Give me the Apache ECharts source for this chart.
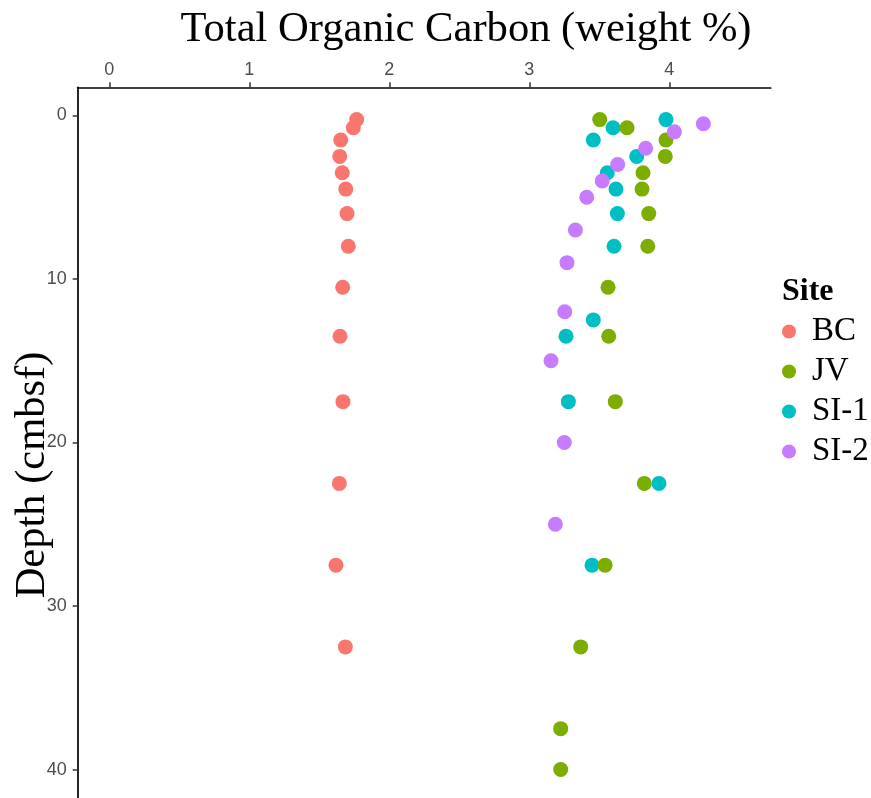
<!DOCTYPE html>
<html>
<head>
<meta charset="utf-8">
<title>Total Organic Carbon by Depth</title>
<script src="https://cdn.jsdelivr.net/npm/echarts@6/dist/echarts.min.js"></script>
<style>
  html, body { margin: 0; padding: 0; background: #ffffff; }
  #chart { width: 871px; height: 798px; }
</style>
</head>
<body>
<div id="chart"></div>
<script>
// Site names and marker colours
var sites = ['BC', 'JV', 'SI-1', 'SI-2'];
var siteColors = ['#F8766D', '#7CAE00', '#00BFC4', '#C77CFF'];

// Sample depths (cmbsf) and TOC (weight %) per site
var bcDepth = [0.25, 0.75, 1.5, 2.5, 3.5, 4.5, 6, 8, 10.5, 13.5, 17.5, 22.5, 27.5, 32.5];
var bcToc   = [1.767, 1.743, 1.653, 1.646, 1.664, 1.689, 1.698, 1.707, 1.667, 1.648, 1.669, 1.643, 1.619, 1.686];

var jvDepth = [0.25, 0.75, 1.5, 2.5, 3.5, 4.5, 6, 8, 10.5, 13.5, 17.5, 22.5, 27.5, 32.5, 37.5, 40];
var jvToc   = [3.503, 3.698, 3.976, 3.971, 3.812, 3.805, 3.853, 3.846, 3.562, 3.567, 3.614, 3.821, 3.541, 3.367, 3.224, 3.224];

var si1Depth = [0.25, 0.75, 1.5, 2.5, 3.5, 4.5, 6, 8, 12.5, 13.5, 17.5, 22.5, 27.5];
var si1Toc   = [3.976, 3.598, 3.457, 3.767, 3.557, 3.619, 3.629, 3.605, 3.457, 3.262, 3.279, 3.926, 3.448];

var si2Depth = [0.5, 1, 2, 3, 4, 5, 7, 9, 12, 15, 20, 25];
var si2Toc   = [4.243, 4.036, 3.831, 3.631, 3.521, 3.41, 3.329, 3.269, 3.253, 3.155, 3.25, 3.186];

// Axis tick values
var tocTicks = [0, 1, 2, 3, 4];
var depthTicks = [0, 10, 20, 30, 40];

function pairs(xs, ys) {
  return xs.map(function (x, i) { return [x, ys[i]]; });
}

var seriesData = {
  'BC': pairs(bcToc, bcDepth),
  'JV': pairs(jvToc, jvDepth),
  'SI-1': pairs(si1Toc, si1Depth),
  'SI-2': pairs(si2Toc, si2Depth)
};

// drawing order: later series sit on top
var drawOrder = ['BC', 'SI-1', 'JV', 'SI-2'];

var chart = echarts.init(document.getElementById('chart'), null, { renderer: 'canvas' });

var serifFont = '"Liberation Serif", "Times New Roman", serif';
var sansFont = '"Liberation Sans", Arial, sans-serif';

chart.setOption({
  animation: false,
  backgroundColor: '#ffffff',
  grid: { left: 77.7, top: 87.3, right: 100.3, bottom: 0, containLabel: false },
  xAxis: {
    type: 'value',
    position: 'top',
    min: -0.2257,
    max: 4.724,
    splitLine: { show: false },
    axisLine: { show: true, onZero: false, lineStyle: { color: '#000000', width: 1.7 } },
    axisTick: { show: true, length: 5, customValues: tocTicks, lineStyle: { color: '#333333', width: 1.5 } },
    axisLabel: {
      show: true, margin: 8, customValues: tocTicks,
      color: '#4d4d4d', fontFamily: sansFont, fontSize: 18,
      formatter: function (v) { return String(v); }
    }
  },
  yAxis: {
    type: 'value',
    inverse: true,
    position: 'left',
    min: -1.725,
    max: 41.74,
    splitLine: { show: false },
    axisLine: { show: true, onZero: false, lineStyle: { color: '#000000', width: 1.7 } },
    axisTick: { show: true, length: 5, customValues: depthTicks, lineStyle: { color: '#333333', width: 1.5 } },
    axisLabel: {
      show: true, margin: 11, customValues: depthTicks,
      color: '#4d4d4d', fontFamily: sansFont, fontSize: 18,
      formatter: function (v) { return String(v); }
    }
  },
  legend: {
    data: sites,
    orient: 'vertical',
    left: 782,
    top: 315,
    padding: 0,
    icon: 'circle',
    itemWidth: 14,
    itemHeight: 14,
    itemGap: 7,
    textStyle: { fontFamily: serifFont, fontSize: 33, color: '#000000', lineHeight: 30, padding: [0, 0, 0, 11] }
  },
  graphic: [
    {
      type: 'text',
      x: 466, y: 30,
      style: {
        text: 'Total Organic Carbon (weight %)',
        font: '42.6px ' + serifFont,
        fill: '#000000',
        align: 'center',
        verticalAlign: 'middle'
      }
    },
    {
      type: 'text',
      x: 33, y: 475,
      rotation: Math.PI / 2,
      style: {
        text: 'Depth (cmbsf)',
        font: '42.5px ' + serifFont,
        fill: '#000000',
        align: 'center',
        verticalAlign: 'middle'
      }
    },
    {
      type: 'text',
      x: 782, y: 292,
      style: {
        text: 'Site',
        font: 'bold 32px ' + serifFont,
        fill: '#000000',
        align: 'left',
        verticalAlign: 'middle'
      }
    }
  ],
  series: drawOrder.map(function (name) {
    return {
      name: name,
      type: 'scatter',
      symbol: 'circle',
      symbolSize: 15,
      itemStyle: { color: siteColors[sites.indexOf(name)], opacity: 1 },
      emphasis: { disabled: true },
      data: seriesData[name]
    };
  })
});
</script>
</body>
</html>
